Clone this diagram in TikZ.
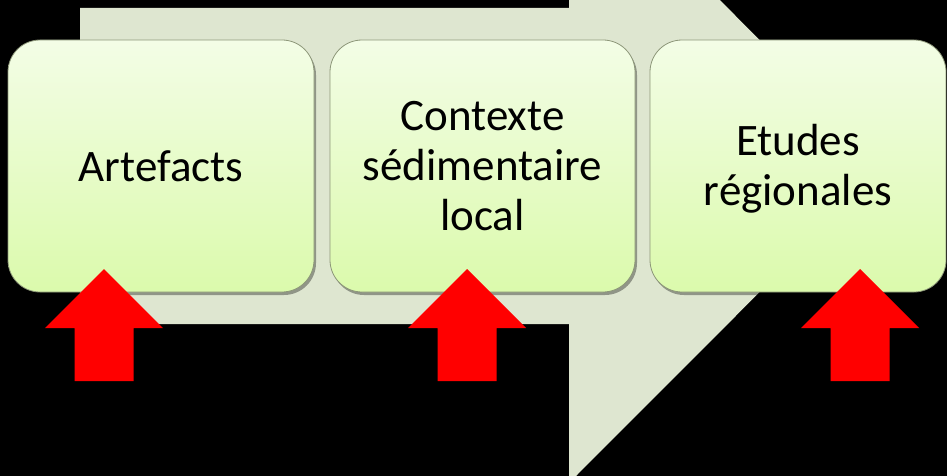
\documentclass[tikz,border=0pt]{standalone}
\usepackage{fontspec}
\setmainfont{Carlito}
\definecolor{bigarrow}{RGB}{222,230,208}
\definecolor{boxtop}{RGB}{243,253,230}
\definecolor{boxbot}{RGB}{219,250,172}
\definecolor{boxline}{RGB}{140,150,120}
\definecolor{redarrow}{RGB}{255,0,0}
\tikzset{
  stagebox/.style={rectangle, rounded corners=32pt, top color=boxtop, bottom color=boxbot,
    draw=boxline, line width=0.8pt, minimum height=252pt, inner sep=0pt},
  stagetext/.style={align=center, font=\fontsize{45}{50}\selectfont, text=black, inner sep=0pt},
  shadowbox/.style={rectangle, rounded corners=32pt, fill=black, opacity=0.35, minimum height=252pt, inner sep=0pt},
  uparrow/.style={fill=redarrow, draw=none}
}
\begin{document}
\begin{tikzpicture}[x=1pt,y=-1pt]
\useasboundingbox (0,0) rectangle (947,476);
\fill[black] (0,0) rectangle (947,476);
\begin{scope}
\clip (0,0) rectangle (947,476);
% large process arrow
\fill[bigarrow] (80,8) -- (569,8) -- (569,-151) -- (885.5,166) -- (569,483) -- (569,324) -- (80,324) -- cycle;
% shadows
\node[shadowbox, minimum width=306pt] at (163,169) {};
\node[shadowbox, minimum width=305pt] at (484.5,169) {};
\node[shadowbox, minimum width=296pt] at (800,169) {};
% boxes
\node[stagebox, minimum width=306pt] (b1) at (161,166) {};
\node[stagebox, minimum width=305pt] (b2) at (482.5,166) {};
\node[stagebox, minimum width=296pt] (b3) at (798,166) {};
\node[stagetext] (t1) at (b1.center) {Artefacts};
\node[stagetext] (t2) at (b2.center) {Contexte\\sédimentaire\\local};
\node[stagetext] (t3) at ([yshift=-3pt]b3.center) {Etudes\\régionales};
% red arrows
\fill[uparrow] (104,269) -- (163,328) -- (133.5,328) -- (133.5,381) -- (74.5,381) -- (74.5,328) -- (45,328) -- cycle;
\fill[uparrow] (467,269) -- (526,328) -- (496.5,328) -- (496.5,381) -- (437.5,381) -- (437.5,328) -- (408,328) -- cycle;
\fill[uparrow] (860,269) -- (919,328) -- (889.5,328) -- (889.5,381) -- (830.5,381) -- (830.5,328) -- (801,328) -- cycle;
\end{scope}
\end{tikzpicture}
\end{document}
